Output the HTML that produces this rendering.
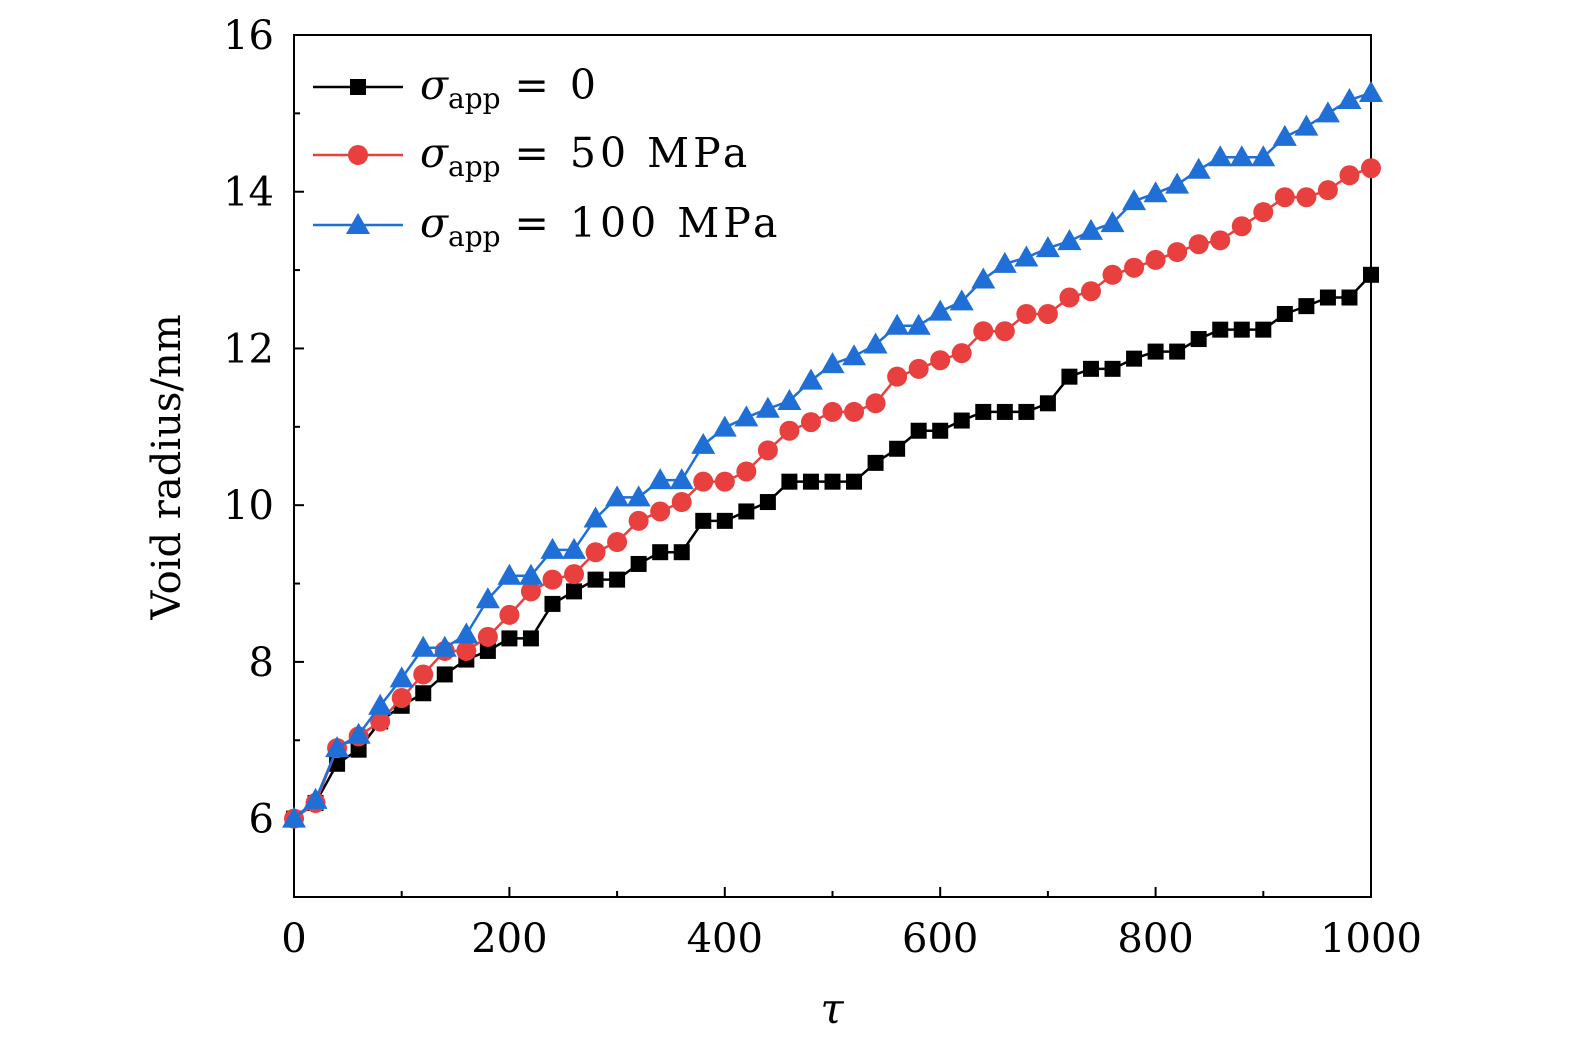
<!DOCTYPE html>
<html><head><meta charset="utf-8"><style>
body{margin:0;background:#fff}
svg text{font-family:"DejaVu Serif","Liberation Serif",serif;fill:#000}
</style></head><body>
<svg width="1575" height="1053" viewBox="0 0 1575 1053">
<g id="plot"></g>
</svg>
<script>
const xs=[0,20,40,60,80,100,120,140,160,180,200,220,240,260,280,300,320,340,360,380,400,420,440,460,480,500,520,540,560,580,600,620,640,660,680,700,720,740,760,780,800,820,840,860,880,900,920,940,960,980,1000];
const s0=[6.0,6.2,6.7,6.88,7.24,7.44,7.6,7.84,8.03,8.14,8.3,8.3,8.74,8.9,9.05,9.05,9.25,9.4,9.4,9.8,9.8,9.92,10.04,10.3,10.3,10.3,10.3,10.54,10.72,10.95,10.95,11.08,11.19,11.19,11.19,11.3,11.64,11.74,11.74,11.87,11.96,11.96,12.12,12.24,12.24,12.24,12.44,12.54,12.65,12.65,12.94];
const s50=[6.0,6.2,6.9,7.05,7.24,7.54,7.84,8.14,8.14,8.32,8.6,8.9,9.05,9.12,9.4,9.53,9.8,9.92,10.04,10.3,10.3,10.43,10.7,10.95,11.06,11.19,11.19,11.3,11.64,11.74,11.85,11.94,12.22,12.22,12.44,12.44,12.65,12.73,12.94,13.03,13.13,13.23,13.33,13.38,13.56,13.74,13.93,13.93,14.02,14.21,14.3];
const s100=[6.0,6.24,6.9,7.07,7.44,7.79,8.18,8.18,8.35,8.8,9.1,9.1,9.43,9.43,9.83,10.1,10.1,10.32,10.32,10.77,10.99,11.12,11.23,11.33,11.59,11.8,11.9,12.05,12.29,12.29,12.47,12.6,12.88,13.08,13.16,13.28,13.37,13.5,13.6,13.88,13.98,14.09,14.28,14.44,14.44,14.44,14.7,14.83,15.0,15.17,15.26];
const xTicks=[0,200,400,600,800,1000];
const yTicks=[6,8,10,12,14,16];
const X0=294,X1=1371,Y0=897,Y1=35;
const sx=v=>X0+(v-0)/1000*(X1-X0);
const sy=v=>Y0-(v-5)/11*(Y0-Y1);
const NS="http://www.w3.org/2000/svg";
const g=document.getElementById('plot');
function el(t,a,p){const e=document.createElementNS(NS,t);for(const k in a)e.setAttribute(k,a[k]);(p||g).appendChild(e);return e;}
const fr=el('rect',{x:X0,y:Y1,width:X1-X0,height:Y0-Y1,fill:'none',stroke:'#000','stroke-width':2});


for(let v=0;v<=1000;v+=100){const maj=v%200===0;const t=el('line',{x1:sx(v),x2:sx(v),y1:Y0,y2:Y0-(maj?10:6),stroke:'#000','stroke-width':2});

}
for(let v=5;v<=16;v+=1){const maj=v%2===0;const t=el('line',{x1:X0,x2:X0+(maj?10:6),y1:sy(v),y2:sy(v),stroke:'#000','stroke-width':2});

}
xTicks.forEach(v=>{const t=el('text',{x:sx(v),y:952,'font-size':40,'text-anchor':'middle'});t.textContent=v;

});
yTicks.forEach(v=>{const t=el('text',{x:274,y:sy(v)+14,'font-size':40,'text-anchor':'end'});t.textContent=v;

});
const yt=el('text',{x:0,y:0,'font-size':40,'text-anchor':'middle',transform:'translate(180,467) rotate(-90)'});yt.textContent='Void radius/nm';


const xt=el('text',{x:832,y:1023,'font-size':42,'font-style':'italic','text-anchor':'middle'});xt.textContent='τ';


function marker(type,x,y,c,parent){
 if(type==='sq')return el('rect',{x:x-8,y:y-8,width:16,height:16,fill:c},parent);
 if(type==='ci')return el('circle',{cx:x,cy:y,r:10,fill:c},parent);
 return el('polygon',{points:`${x},${y-12} ${x-12},${y+9} ${x+12},${y+9}`,fill:c},parent);
}
const series=[{d:s0,c:'#000',m:'sq',n:'series-0mpa'},{d:s50,c:'#e8403f',m:'ci',n:'series-50mpa'},{d:s100,c:'#1f6fd6',m:'tr',n:'series-100mpa'}];
series.forEach(s=>{
 const sg=el('g',{});
 
 
 el('polyline',{points:xs.map((x,i)=>sx(x)+','+sy(s.d[i])).join(' '),fill:'none',stroke:s.c,'stroke-width':2.5},sg);
 xs.forEach((x,i)=>{const m=marker(s.m,sx(x),sy(s.d[i]),s.c,sg);
 
 });
});
const labels=['= 0','= 50 MPa','= 100 MPa'];
[87,155,225].forEach((y,i)=>{const s=series[i];
 const lg=el('g',{});
 
 
 el('line',{x1:313,x2:403,y1:y,y2:y,stroke:s.c,'stroke-width':2.5},lg);
 marker(s.m,358,y,s.c,lg);
 const t=el('text',{x:420,y:y+12,'font-size':41},lg);
 t.innerHTML=`<tspan font-style="italic">σ</tspan><tspan font-size="28" dy="9">app</tspan><tspan dy="-9" dx="14" letter-spacing="4">${labels[i]}</tspan>`;
});
</script>
</body></html>
